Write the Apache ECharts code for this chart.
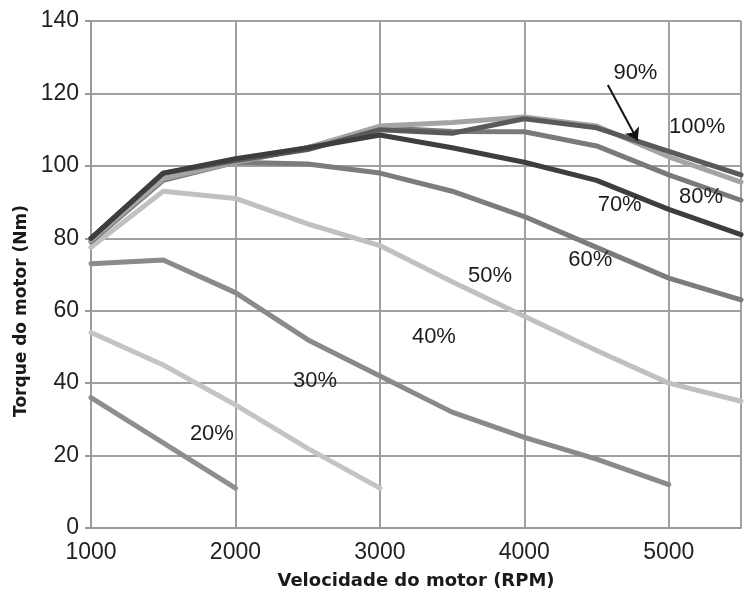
<!DOCTYPE html>
<html>
<head>
<meta charset="utf-8">
<script src="https://cdn.jsdelivr.net/npm/echarts@6/dist/echarts.min.js"></script>
<style>html,body{margin:0;padding:0;background:#fff}#c{width:744px;height:604px}</style>
</head>
<body>
<div id="c"></div>
<script>
var rpm = [1000, 1500, 2000, 2500, 3000, 3500, 4000, 4500, 5000, 5500];
var t20 = [36, 23.5, 11];
var t30 = [54, 45, 34, 22, 11];
var t40 = [73, 74, 65, 52, 42, 32, 25, 19, 12];
var t50 = [77.5, 93, 91, 84, 78, 68, 58.5, 49, 40, 35];
var t60 = [79, 96, 101, 100.5, 98, 93, 86, 77.5, 69, 63];
var t70 = [80, 98, 102, 105, 108.5, 105, 101, 96, 88, 81];
var t80 = [80, 97, 101, 105, 110.5, 109.5, 109.4, 105.5, 97.5, 90.5];
var t90 = [80, 98, 101.5, 104.5, 110, 109, 113, 110.5, 104, 97.5];
var t100 = [79.5, 96.5, 101, 105, 111, 112, 113.5, 111, 102.5, 95.5];
var yTicks = [0, 20, 40, 60, 80, 100, 120, 140];
var xTicks = [1000, 2000, 3000, 4000, 5000];
var labelNames = ['20%', '30%', '40%', '50%', '60%', '70%', '80%', '90%', '100%'];
var labelX = [1837, 2551, 3374, 3762, 4456, 4660, 5224, 4769, 5197];
var labelY = [26, 40.6, 52.7, 69.6, 74, 89.2, 91.4, 125.6, 110.7];
var arrowFrom = [4578, 122.3];
var arrowTo = [4785, 107];

var FONT = "'Liberation Sans', Arial, sans-serif";
var BOLD = "'DejaVu Sans', Verdana, sans-serif";

function pairs(vals) { return vals.map(function (v, i) { return [rpm[i], v]; }); }
var seriesDefs = [
  { d: t20, c: '#8e8e8e' },
  { d: t30, c: '#c4c4c4' },
  { d: t40, c: '#8a8a8a' },
  { d: t50, c: '#c0c0c0' },
  { d: t60, c: '#7c7c7c' },
  { d: t80, c: '#7a7a7a' },
  { d: t100, c: '#a4a4a4' },
  { d: t90, c: '#5a5a5a' },
  { d: t70, c: '#3e3e3e' }
];
var series = seriesDefs.map(function (s) {
  return {
    type: 'line', data: pairs(s.d), symbol: 'none', smooth: false,
    lineStyle: { color: s.c, width: 5, join: 'round', cap: 'round' },
    silent: true, z: 3
  };
});
series.push({
  type: 'scatter', symbolSize: 0, z: 5, silent: true,
  itemStyle: { opacity: 1, color: 'rgba(0,0,0,0)' },
  data: labelNames.map(function (n, i) { return { value: [labelX[i], labelY[i]], name: n }; }),
  label: { show: true, position: 'inside', formatter: '{b}', color: '#1c1c1c',
    textBorderWidth: 0, fontFamily: FONT, fontSize: 22 }
});
series.push({
  type: 'lines', coordinateSystem: 'cartesian2d', z: 6, silent: true,
  symbol: ['none', 'arrow'], symbolSize: 12,
  lineStyle: { color: '#111', width: 2, opacity: 1, curveness: 0 },
  data: [{ coords: [arrowFrom, arrowTo] }]
});

var chart = echarts.init(document.getElementById('c'));
chart.setOption({
  animation: false,
  backgroundColor: '#fff',
  grid: { left: 91, top: 21, bottom: 76, right: -8.5, containLabel: false },
  xAxis: {
    type: 'value', min: 1000, max: 5500, interval: 1000,
    axisLine: { show: true, lineStyle: { color: '#9a9a9a', width: 2 } },
    axisTick: { show: false },
    splitLine: { show: true, lineStyle: { color: '#a0a0a0', width: 2 } },
    axisLabel: { margin: 13, color: '#222', fontSize: 23, fontFamily: FONT,
      formatter: function (v) { return xTicks.indexOf(v) >= 0 ? String(v) : ''; } },
    name: 'Velocidade do motor (RPM)', nameLocation: 'middle', nameGap: 44,
    nameTextStyle: { color: '#1a1a1a', fontSize: 18, fontWeight: 'bold', fontFamily: BOLD }
  },
  yAxis: {
    type: 'value', min: 0, max: 140, interval: 20,
    axisLine: { show: true, lineStyle: { color: '#9a9a9a', width: 2 } },
    axisTick: { show: true, length: 6, lineStyle: { color: '#9a9a9a', width: 2 } },
    splitLine: { show: true, lineStyle: { color: '#a0a0a0', width: 2 } },
    axisLabel: { margin: 12, color: '#222', fontSize: 23, fontFamily: FONT,
      formatter: function (v) { return yTicks.indexOf(v) >= 0 ? String(v) : ''; } }
  },
  graphic: [{
    type: 'text', x: 22, y: 311, rotation: Math.PI / 2,
    style: { text: 'Torque do motor (Nm)', fill: '#1a1a1a', fontSize: 17, fontWeight: 'bold',
      fontFamily: BOLD, align: 'center', verticalAlign: 'middle' }
  }],
  series: series
});
</script>
</body>
</html>
